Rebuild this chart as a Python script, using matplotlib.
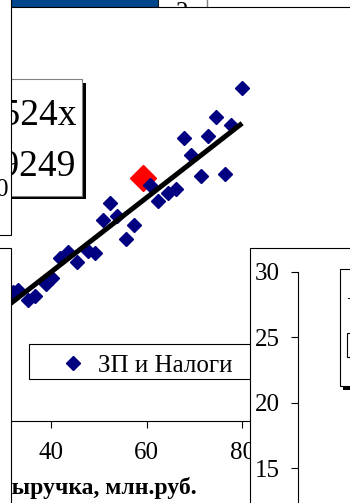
import matplotlib
matplotlib.use('Agg')
import matplotlib.pyplot as plt
from matplotlib.patches import Rectangle
from matplotlib.lines import Line2D

# revenue (млн.руб.) vs. payroll + taxes
revenue = [32.1, 33.2, 35.3, 36.7, 39.0, 40.2, 41.8, 43.6, 45.4, 47.8, 49.2,
           50.8, 52.4, 53.8, 55.7, 57.4, 60.7, 62.5, 64.6, 66.2, 67.9, 69.3,
           71.3, 72.9, 74.5, 76.4, 77.7, 79.9]
payroll = [12.2, 12.4, 11.5, 11.8, 13.0, 13.5, 15.4, 16.0, 15.1, 16.1, 15.9,
           19.0, 20.6, 19.4, 17.2, 18.6, 22.3, 20.8, 21.6, 22.0, 26.8, 25.2,
           23.2, 27.0, 28.8, 23.4, 28.0, 31.5]
hl_revenue = [59.2]
hl_payroll = [23.0]

slope = 0.3524
r2 = 0.9249
x_ticks = [40, 60, 80]
right_ticks = [15, 20, 25, 30]

W, H = 350, 503
SERIF = 'Liberation Serif'


def fx(px):
    return px / W


def fy(py):
    return 1 - py / H


def box(x0, y0, x1, y1, **kw):
    # rectangle given in pixel corners (top-left origin)
    return Rectangle((fx(x0), fy(y1)), fx(x1) - fx(x0), fy(y0) - fy(y1),
                     transform=fig.transFigure, **kw)


fig = plt.figure(figsize=(W / 100, H / 100), dpi=100)

# strip of the chart above
fig.add_artist(box(10, -5, 158, 7, facecolor='#00468c', edgecolor='#1a1a1a',
                   lw=0.8, zorder=-3))
fig.text(fx(182), fy(19), '2', ha='center', va='baseline', fontsize=18,
         family=SERIF, zorder=-3)
fig.add_artist(Line2D([fx(207), fx(207)], [fy(0), fy(7)], color='#808080',
                      lw=1, transform=fig.transFigure, zorder=-3))

# main chart area
fig.add_artist(box(-10, 7, 360, 520, facecolor='white', edgecolor='black',
                   lw=0.8, zorder=-1))

ax = fig.add_axes([fx(0), fy(421), fx(250), fy(7) - fy(421)], zorder=0)
ax.set_facecolor('none')
ax.set_xlim(29.35, 81.65)
ax.set_ylim(0, 39.2)
for side in ['left', 'top', 'right']:
    ax.spines[side].set_visible(False)
ax.spines['bottom'].set_linewidth(0.8)
ax.set_yticks([])
ax.set_xticks(x_ticks)
ax.tick_params(axis='x', direction='out', length=5, width=0.8, pad=10,
               labelsize=18)
for lab in ax.get_xticklabels():
    lab.set_family(SERIF)

ax.plot(hl_revenue, hl_payroll, 'D', color='red', ms=13.7, zorder=2)
ax.plot(revenue, payroll, 'D', color='#000080', ms=7, zorder=3)
xs = [20, 80]
ax.plot(xs, [slope * v for v in xs], color='black', lw=3.6, zorder=4,
        solid_capstyle='butt')

fig.text(fx(197), fy(494), 'Выручка, млн.руб.', ha='right', va='baseline',
         fontsize=17, fontweight='bold', family=SERIF, zorder=2)

# trendline equation
fig.add_artist(box(-60, 83, 86, 199, facecolor='black', edgecolor='none',
                   zorder=2))
eq_box = box(-60, 79, 82, 196, facecolor='white', edgecolor='#808080',
             lw=0.8, zorder=2.1)
fig.add_artist(eq_box)
t1 = fig.text(fx(77), fy(125), 'y = %s' % ('%.4fx' % slope).replace('.', ','),
              ha='right', va='baseline', fontsize=27, family=SERIF, zorder=2.2)
t2 = fig.text(fx(75), fy(175), 'R² = %s' % ('%.4f' % r2).replace('.', ','),
              ha='right', va='baseline', fontsize=27, family=SERIF, zorder=2.2)
for t in (t1, t2):
    t.set_clip_path(box(11, 79, 82, 196))

# legend
fig.add_artist(box(29, 344, 262, 379, facecolor='white', edgecolor='black',
                   lw=0.8, zorder=2))
fig.add_artist(Line2D([fx(73)], [fy(363)], marker='D', color='#000080',
                      ms=7, lw=0, transform=fig.transFigure, zorder=2.2))
fig.text(fx(98), fy(371.5), 'ЗП и Налоги', ha='left', va='baseline',
         fontsize=18, family=SERIF, zorder=2.2)

# neighbouring panels on the left
fig.add_artist(box(-20, -20, 11, 235, facecolor='white', edgecolor='black',
                   lw=0.8, zorder=3))
fig.text(fx(8.5), fy(196), '0', ha='right', va='baseline', fontsize=18,
         family=SERIF, zorder=3.1)
fig.add_artist(box(-20, 248, 11, 520, facecolor='white', edgecolor='black',
                   lw=0.8, zorder=3))

# neighbouring panel on the right
fig.add_artist(box(250, 248, 370, 520, facecolor='white', edgecolor='black',
                   lw=0.8, zorder=3))
axr = fig.add_axes([fx(298), fy(503), fx(40), fy(272) - fy(503)], zorder=4)
axr.set_facecolor('none')
axr.set_ylim(12.33, 30)
axr.set_xticks([])
for side in ['bottom', 'top', 'right']:
    axr.spines[side].set_visible(False)
axr.spines['left'].set_linewidth(0.8)
axr.set_yticks(right_ticks)
axr.tick_params(axis='y', direction='out', length=5, width=0.8, pad=8,
                labelsize=18)
for lab in axr.get_yticklabels():
    lab.set_family(SERIF)

fig.add_artist(box(343, 272, 370, 390, facecolor='black', edgecolor='none',
                   zorder=5))
fig.add_artist(box(340, 269, 370, 386, facecolor='white', edgecolor='black',
                   lw=0.8, zorder=5.1))
fig.text(fx(346), fy(315), 'У', ha='left', va='baseline', fontsize=18,
         family=SERIF, zorder=5.2)
fig.add_artist(box(347, 333, 370, 357, facecolor='white', edgecolor='black',
                   lw=0.8, zorder=5.2))

fig.savefig('out.png', dpi=100)
